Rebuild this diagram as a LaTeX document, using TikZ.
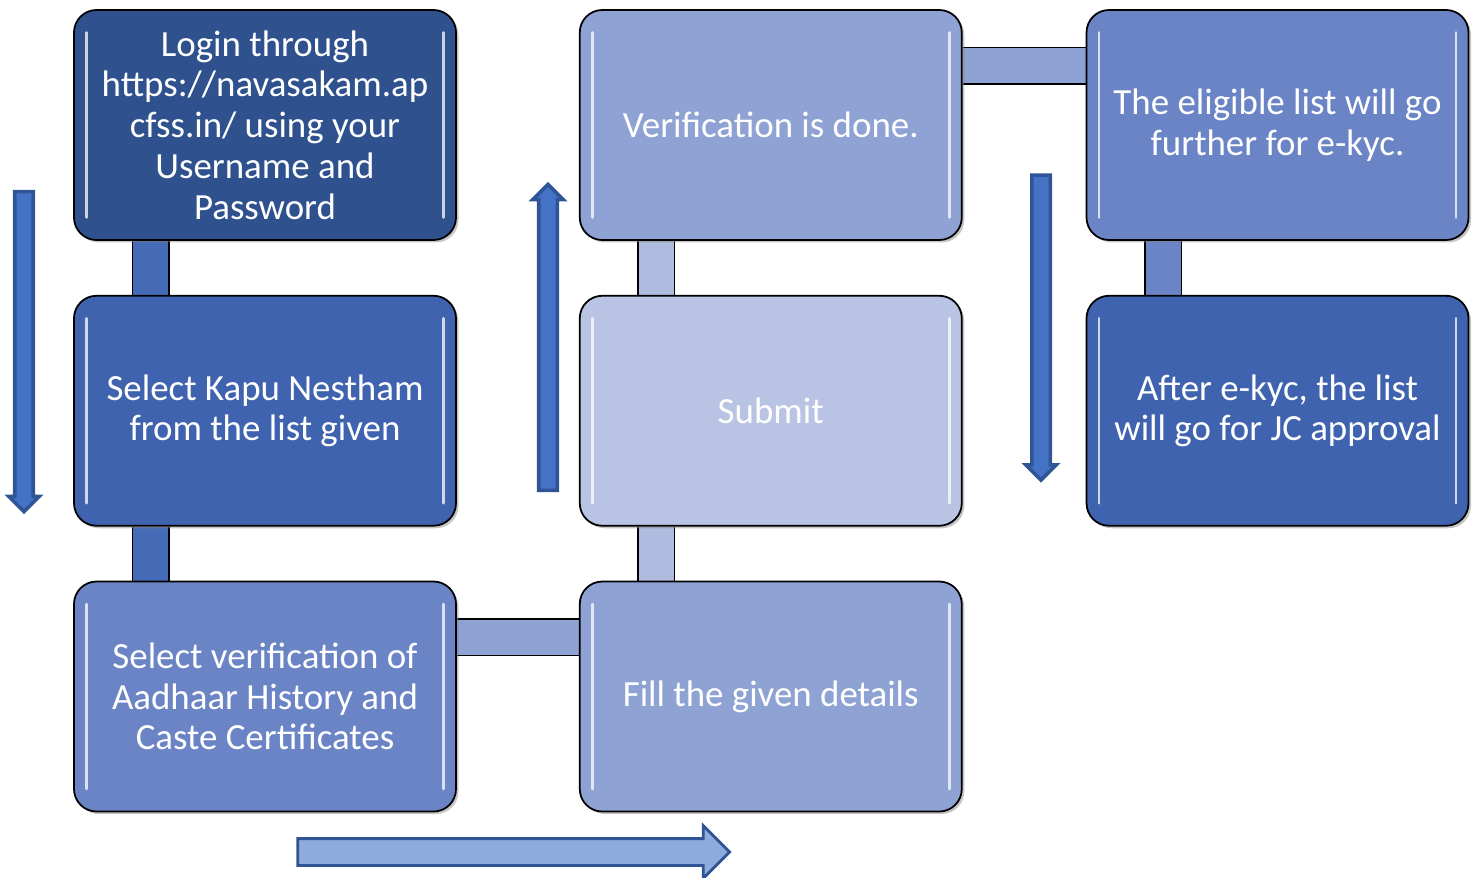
\documentclass[tikz,border=0pt]{standalone}
\usepackage{fontspec}
\setmainfont{Carlito}
\usepackage{xcolor}
\usetikzlibrary{shapes.arrows, positioning, shadows, backgrounds}
\definecolor{kapunavy}{RGB}{47, 82, 143}
\definecolor{kapublue}{RGB}{64, 99, 176}
\definecolor{kapumid}{RGB}{106, 132, 198}
\definecolor{kapulight}{RGB}{143, 162, 212}
\definecolor{kapupale}{RGB}{185, 195, 228}
\definecolor{kapubar}{RGB}{70, 107, 182}
\definecolor{kapupalebar}{RGB}{176, 188, 223}
\definecolor{arrowfill}{RGB}{68, 114, 196}
\definecolor{arrowedge}{RGB}{47, 85, 151}
\definecolor{arrowsoft}{RGB}{143, 170, 220}
\tikzstyle{flowbox} = [draw=black, line width=1pt, rounded corners=0.45cm,
  minimum width=7.64cm, minimum height=4.6cm, text width=7.3cm, align=flush center,
  text=white, font=\fontsize{21}{23.2}\selectfont,
  drop shadow={shadow xshift=0.05cm, shadow yshift=-0.05cm, opacity=0.45},
  path picture={
    \draw[white, opacity=0.75, line width=1.6pt, line cap=round]
      ([xshift=0.25cm,yshift=-0.45cm]path picture bounding box.north west) --
      ([xshift=0.25cm,yshift=0.45cm]path picture bounding box.south west)
      ([xshift=-0.25cm,yshift=-0.45cm]path picture bounding box.north east) --
      ([xshift=-0.25cm,yshift=0.45cm]path picture bounding box.south east);
  }]
\tikzstyle{linkbar} = [draw=black, line width=0.8pt, double distance=0.7cm]
\tikzstyle{blockarrow} = [single arrow, draw=arrowedge, fill=arrowfill, line width=2pt,
  inner sep=0.15cm, single arrow head extend=0.12cm]

\begin{document}
\begin{tikzpicture}
\useasboundingbox (0,0) rectangle (29.68,-17.56);

% Steps
\node[flowbox, fill=kapunavy] (login) at (5.3,-2.5)
  {Login through\\https://navasakam.ap\\cfss.in/ using your\\Username and\\Password};
\node[flowbox, fill=kapublue, below=1.08cm of login] (select)
  {Select Kapu Nestham\\from the list given};
\node[flowbox, fill=kapumid, below=1.08cm of select] (verify)
  {Select verification of\\Aadhaar History and\\Caste Certificates};
\node[flowbox, fill=kapulight, right=2.44cm of verify] (fill) {Fill the given details};
\node[flowbox, fill=kapupale, above=1.08cm of fill] (submit) {Submit};
\node[flowbox, fill=kapulight, above=1.08cm of submit] (done) {Verification is done.};
\node[flowbox, fill=kapumid, right=2.46cm of done] (eligible)
  {The eligible list will go\\further for e-kyc.};
\node[flowbox, fill=kapublue, below=1.08cm of eligible] (ekyc)
  {After e-kyc, the list\\will go for JC approval};

% Bars between steps
\begin{scope}[on background layer]
\draw[linkbar, double=kapubar] ([xshift=1.55cm]login.south west) -- ([xshift=1.55cm]select.north west);
\draw[linkbar, double=kapubar] ([xshift=1.55cm]select.south west) -- ([xshift=1.55cm]verify.north west);
\draw[linkbar, double=kapulight] ([yshift=-1.13cm]verify.north east) -- ([yshift=-1.13cm]fill.north west);
\draw[linkbar, double=kapupalebar] ([xshift=1.55cm]fill.north west) -- ([xshift=1.55cm]submit.south west);
\draw[linkbar, double=kapupalebar] ([xshift=1.55cm]submit.north west) -- ([xshift=1.55cm]done.south west);
\draw[linkbar, double=kapulight] ([yshift=-1.13cm]done.north east) -- ([yshift=-1.13cm]eligible.north west);
\draw[linkbar, double=kapumid] ([xshift=1.55cm]eligible.south west) -- ([xshift=1.55cm]ekyc.north west);
\end{scope}

% Direction arrows
\node[blockarrow, shape border rotate=270, minimum height=6.4cm] (downleft) at (0.48,-6.94) {};
\node[blockarrow, shape border rotate=90, minimum height=6.12cm] (upmid) at (10.96,-6.84) {};
\node[blockarrow, shape border rotate=270, minimum height=6.1cm] (downright) at (20.82,-6.46) {};
\node[blockarrow, fill=arrowsoft, line width=1.6pt, inner sep=0.24cm,
  single arrow head extend=0.26cm, minimum height=8.64cm] (rightbottom) at (10.14,-17.04) {};
\end{tikzpicture}
\end{document}
